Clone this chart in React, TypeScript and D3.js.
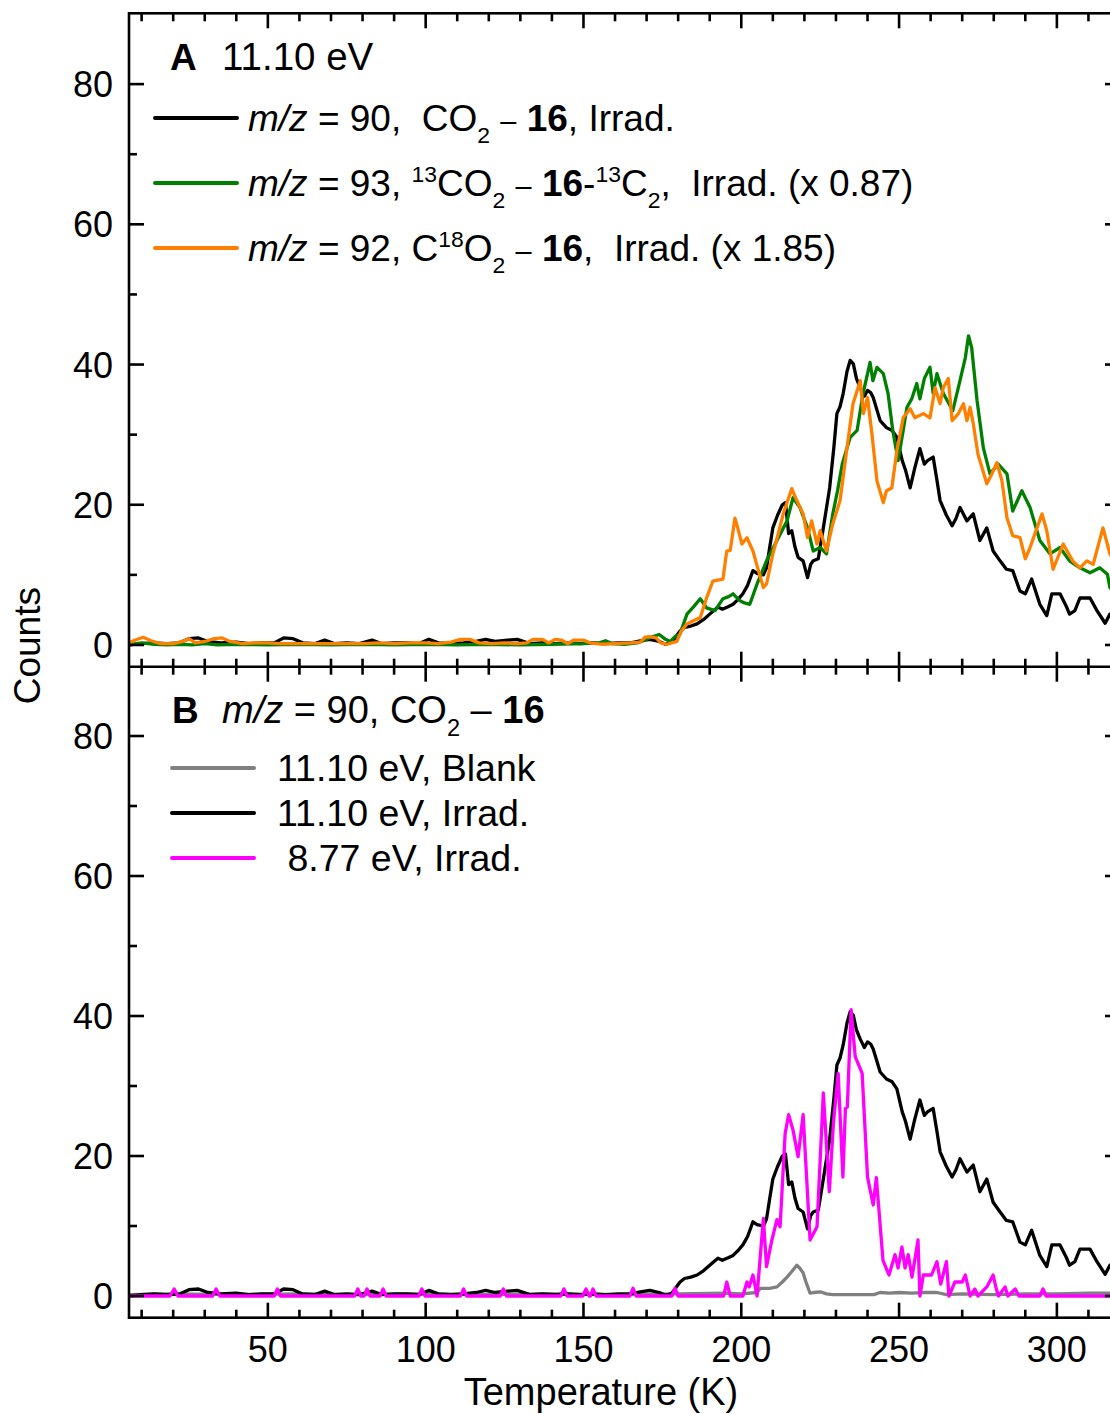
import React from 'react';
import * as d3 from 'd3';

type P = [number, number];

// m/z = 90, CO2 - 16, 11.10 eV, Irrad. (used in both panels)
const mz90Irrad: P[] = [
  [6,0],[10,0.2],[14,0.3],[18,0.2],[22,0.3],[25,0.9],[28,1.0],[31,0.5],[35,0.3],[40,0.4],[44,0.2],[48,0.3],[52,0.3],[55,1.0],[58,0.9],[61,0.3],[65,0.2],[68,0.7],[71,0.2],[75,0.3],[79,0.2],[83,0.7],[86,0.2],[90,0.3],[94,0.3],[98,0.2],[101,0.8],[104,0.3],[108,0.2],[112,0.3],[116,0.5],[119,0.8],[122,0.5],[126,0.7],[129,0.8],[133,0.2],[137,0.3],[141,0.2],[145,0.3],[149,0.2],[153,0.3],[157,0.2],[161,0.3],[165,0.3],[168,0.6],[171,0.8],[174,0.5],[176,0.1],[178,0.4],[180.6,2],[182,2.5],[184,2.7],[186,3],[188,3.6],[190,4.4],[192.6,5.4],[194,5.1],[196,5.5],[197.4,5.8],[199,6.5],[200.5,7.3],[202,8.5],[203.7,10.6],[205,10.2],[207,10],[208,11],[209,13.9],[210,16.7],[211.5,18.5],[213,20],[214,20.3],[215,15.9],[216,16.3],[217,14],[218,12.5],[219.6,12],[221,9.6],[222,11.5],[222.8,12],[224.4,12.3],[226,16.7],[228,22.4],[229.3,28],[230.3,33],[231.3,34],[232.3,35.9],[233.5,39],[234.5,40.6],[235.5,40.1],[236.5,38],[237.7,36.7],[239,35.5],[240,36.3],[241,36],[241.8,35.3],[243,33.5],[244,32],[246,31],[247.8,30.6],[249.3,29.6],[251,26.3],[252,25],[253.5,22.4],[255,25.3],[256.6,28],[258,25.8],[259,26.3],[260.8,26.8],[262,23.5],[263,20.6],[265,18.5],[266.8,17],[268,18],[269.3,19.6],[271.5,17.7],[273.5,18.7],[275.6,14.9],[277.8,16.7],[279.8,13.4],[282,12],[284,10.8],[286,10.6],[288.3,7.7],[290,7.3],[292,9.4],[294.6,5.8],[296.8,4.2],[298.4,7.3],[301,7.3],[303,5.5],[304,4.4],[305.7,4.9],[307.3,6.7],[310.5,6.7],[312.7,4.9],[315.3,3.1],[316.8,4.4],[318,3.5],[320,3]
];

// m/z = 93, 13CO2 - 16-13C2, Irrad. (x 0.87)
const mz93Irrad: P[] = [
  [6,0],[10,0.3],[14,0.1],[18,0],[22,0.1],[26,0],[30,0.2],[34,0],[40,0.1],[50,0],[60,0.1],[70,0],[80,0.1],[90,0],[100,0.1],[110,0],[120,0.1],[130,0],[140,0.1],[150,0.2],[155,0.3],[157,0.6],[159,0.2],[163,0.1],[167,0.3],[170,0.8],[172,1.2],[174,1.5],[176,0.8],[177.5,0.5],[179,1.2],[180.5,1.5],[182.8,4.4],[185,5.5],[187,6.6],[189,5.3],[191.7,4.9],[194.2,6.6],[196,6.9],[197.4,7.3],[199.6,6.3],[201,6],[202.7,5.8],[205,8.7],[208,12],[211.3,14.9],[214.5,17.7],[216.4,21],[218.6,19.6],[221,16.7],[222.8,13.4],[225,13.9],[227,13],[229,18.7],[230.5,22],[232,25.8],[234.5,29.6],[236.7,30.6],[238.6,35.9],[240.8,40.3],[241.7,37.7],[243,39.6],[245,38.7],[246.5,35.9],[248,30.6],[249.7,26.3],[251.3,30.6],[252.5,33.9],[254,35.1],[255.6,37.3],[256.6,35.1],[258,38],[259.8,39.6],[260.8,35.9],[262,38.7],[264,35.9],[267,33.4],[269.3,37.7],[271,41],[272,44.1],[273,42.4],[274.7,34.9],[276.7,28.1],[278.8,24.4],[281.4,25.8],[284.2,24.4],[286,19.1],[288.9,22],[291.5,19.6],[294.6,14.9],[297.8,13],[301,13.9],[304,12],[307.3,11],[310.5,10.3],[313.6,11],[316,10.1],[316.8,8.2],[318,7.5],[320,7]
];

// m/z = 92, C18O2 - 16, Irrad. (x 1.85)
const mz92Irrad: P[] = [
  [6,0.3],[8,0.7],[10.5,1.1],[13,0.6],[16,0.2],[20,0.2],[23,0.5],[25,0.9],[27,0.3],[30,0.5],[33,0.9],[35.5,1.0],[38,0.5],[42,0.2],[46,0.3],[50,0.3],[54,0.2],[58,0.2],[62,0.2],[66,0.2],[70,0.2],[75,0.2],[80,0.2],[85,0.3],[90,0.2],[95,0.3],[100,0.3],[104,0.2],[108,0.4],[111,0.8],[114,0.8],[117,0.3],[121,0.2],[125,0.3],[129,0.2],[132,0.3],[134,0.8],[137,0.8],[139,0.3],[141,0.8],[143,0.7],[145,0.2],[147,0.7],[150,0.7],[152,0.3],[156,0.1],[160,0.2],[165,0.3],[168,0.4],[169.5,1.1],[171,1.2],[173,1.0],[174.5,0.3],[176.5,0.1],[179.6,0.5],[181,2],[182.8,3],[185,3.5],[187,3.9],[189,6.7],[191,9.1],[193,9.3],[194.2,9.4],[195.4,13.4],[196.5,13.5],[198,18.1],[199,16.5],[200.2,14.4],[201.8,15.3],[203.7,13.4],[205.5,10.5],[207,8.2],[208,8.7],[210,13],[211.5,15.5],[213.3,18.7],[216,22.3],[217.6,20.6],[219.6,18.7],[221,15.3],[222.3,17.7],[224,14.4],[225,16.3],[227,13.4],[229,17.3],[231.3,20.6],[233.5,28.1],[235.4,34.4],[237.7,37.7],[238.7,33],[240,35.3],[241.4,30.1],[243,23.4],[245,20.3],[246,22],[247.7,22.4],[249.3,27.7],[251.3,32.4],[253.5,33.7],[255,32.4],[257.7,33],[259.8,32.4],[261.4,36.7],[263,34.4],[264,36.7],[265.6,38],[266.8,32],[268.8,33],[270.4,34.4],[271.5,32],[272.5,33.9],[273.5,31.6],[275,27.2],[277.8,23],[279.4,24.4],[281,26],[282.6,23.4],[284.2,18.1],[286,15.6],[288.3,15.3],[290,12.3],[291.5,13.9],[293.7,16.7],[295.3,18.7],[296.8,16.3],[298.8,10.8],[302,14.4],[305,12],[307.3,11],[309.5,12],[311.5,11.5],[314.6,16.7],[316.8,13],[318,12],[320,11.5]
];

// 11.10 eV, Blank (m/z = 90)
const mz90Blank: P[] = [
  [6,0.2],[20,0.3],[40,0.2],[60,0.3],[80,0.2],[100,0.3],[120,0.2],[140,0.3],[160,0.2],[180,0.3],[195,0.4],[200,0.3],[205,0.5],[206,1.1],[209,1.1],[211.3,1.3],[213,2],[214.5,2.7],[216,3.5],[217.6,4.4],[218.5,4],[219.6,3.3],[220.5,2],[221.8,0.4],[223,0.5],[225,0.6],[227,0.3],[229,0.2],[235,0.2],[242,0.2],[244,0.5],[247,0.4],[250,0.5],[254,0.4],[258,0.5],[262,0.5],[265,0.2],[270,0.3],[280,0.2],[290,0.3],[300,0.3],[310,0.4],[320,0.4]
];

// 8.77 eV, Irrad. (m/z = 90)
const mz90Irrad877: P[] = [
  [6,0],[19,0],[20.3,1],[21.5,0],[32.5,0],[33.6,1],[34.8,0],[52,0],[53,1],[54,0],[77.5,0],[78.5,1],[79.5,0],[80.5,0],[81.4,1],[82.4,0],[85.5,0],[86.5,1],[87.5,0],[97.8,0],[98.8,1],[99.8,0],[111,0],[112,1],[113,0],[123.6,0],[124.6,1],[125.6,0],[142.8,0],[143.8,1],[144.8,0],[149.8,0],[150.8,1],[151.8,0],[152.2,0],[153,1],[154,0],[164.7,0],[165.7,1.1],[166.7,0],[178,0],[179,1.1],[180,0],[194.4,0],[195.4,2],[196.5,0],[200.5,0],[201.8,2],[202.5,1.3],[203.7,3],[205,0],[207,11.1],[208,4.2],[209.7,8],[211.3,10.9],[212.3,9.9],[213.9,23.2],[215,25.9],[216.4,23.7],[218,19.9],[219.6,25.9],[221.8,8],[224,9.9],[226,29],[227.9,14.9],[229.2,24.7],[230.7,31.8],[232.2,17],[233,26.8],[233.6,27],[234.8,40.9],[236.1,34.2],[238.3,31.8],[240,17],[241.8,13],[242.8,16.9],[244.9,5.1],[246.8,3],[248.7,5.9],[249.7,4],[250.9,7],[251.9,4],[252.9,5.9],[254.1,2.7],[256,8],[256.6,0],[257.7,3],[260.3,3],[262,4.9],[263.2,1.7],[265,4.9],[265.8,0],[267.7,2],[270,2],[271,3],[272.5,0],[274,1],[275,0],[277.8,1.3],[279.8,3],[280.8,1],[281.5,0],[283.6,1.3],[284.5,0],[286.8,1],[288,0],[294.6,0],[295.6,1],[296.6,0],[320,0]
];

const xMajorTicks = [50, 100, 150, 200, 250, 300];
const xMinorTicks = [10, 20, 30, 40, 60, 70, 80, 90, 110, 120, 130, 140, 160, 170, 180, 190, 210, 220, 230, 240, 260, 270, 280, 290, 310];
const yMajorTicks = [0, 20, 40, 60, 80];
const yMinorTicks = [10, 30, 50, 70];

const FONT = "'Liberation Sans', Arial, sans-serif";

type Seg = { t: string; k?: 'i' | 'b' | 'sub' | 'sup' | 'dash' };

function RichText({ x, y, segs, size }: { x: number; y: number; segs: Seg[]; size: number }) {
  const out: React.ReactNode[] = [];
  let shift = 0;
  segs.forEach((s, i) => {
    let target = 0;
    let fs = size;
    if (s.k === 'sub') { target = size * 0.33; fs = size * 0.62; }
    if (s.k === 'sup') { target = -size * 0.38; fs = size * 0.62; }
    if (s.k === 'dash') { fs = size * 0.78; }
    const dy = target - shift;
    shift = target;
    out.push(
      <tspan key={i} dy={dy} fontSize={fs}
        fontStyle={s.k === 'i' ? 'italic' : 'normal'}
        fontWeight={s.k === 'b' ? 'bold' : 'normal'}>{s.t}</tspan>
    );
  });
  return <text x={x} y={y} fontFamily={FONT} fontSize={size} fill="#000" style={{ whiteSpace: 'pre' }}>{out}</text>;
}

export default function App() {
  const x = d3.scaleLinear().domain([6, 320]).range([129, 1120]);
  const yA = d3.scaleLinear().domain([-3.1, 90.1]).range([666.7, 13.3]);
  const yB = d3.scaleLinear().domain([-3.1, 89.9]).range([1317.7, 666.7]);
  const lineA = d3.line<P>().x(d => x(d[0])).y(d => yA(d[1]));
  const lineB = d3.line<P>().x(d => x(d[0])).y(d => yB(d[1]));

  const x0 = x.range()[0], x1 = x.range()[1];
  const topA = yA.range()[1], sep = yA.range()[0], botB = yB.range()[0];
  const MAJ = 15, MIN = 8;
  const sw = 2.6;

  const xTickSet = (yy: number, dir: number) => (
    <g>
      {xMajorTicks.map(t => <line key={'M' + t} x1={x(t)} x2={x(t)} y1={yy} y2={yy + dir * MAJ} stroke="#000" strokeWidth={sw} />)}
      {xMinorTicks.map(t => <line key={'m' + t} x1={x(t)} x2={x(t)} y1={yy} y2={yy + dir * MIN} stroke="#000" strokeWidth={sw} />)}
    </g>
  );
  const yTickSet = (ys: d3.ScaleLinear<number, number>, withLabels: boolean) => (
    <g>
      {yMajorTicks.map(t => (
        <g key={'M' + t}>
          <line x1={x0} x2={x0 + MAJ} y1={ys(t)} y2={ys(t)} stroke="#000" strokeWidth={sw} />
          <line x1={x1} x2={x1 - MAJ} y1={ys(t)} y2={ys(t)} stroke="#000" strokeWidth={sw} />
          {withLabels && <text x={113} y={ys(t) + 13} textAnchor="end" fontFamily={FONT} fontSize={36}>{t}</text>}
        </g>
      ))}
      {yMinorTicks.map(t => (
        <g key={'m' + t}>
          <line x1={x0} x2={x0 + MIN} y1={ys(t)} y2={ys(t)} stroke="#000" strokeWidth={sw} />
          <line x1={x1} x2={x1 - MIN} y1={ys(t)} y2={ys(t)} stroke="#000" strokeWidth={sw} />
        </g>
      ))}
    </g>
  );

  const lw = 3.3;
  const legLine = (xa: number, xb: number, yy: number, c: string) =>
    <line x1={xa} x2={xb} y1={yy} y2={yy} stroke={c} strokeWidth={4} strokeLinecap="round" />;

  return (
    <svg width={1110} height={1414} style={{ position: 'absolute', left: 0, top: 0, background: '#fff' }}>
      <defs>
        <clipPath id="clipA"><rect x={x0} y={topA} width={x1 - x0} height={sep - topA} /></clipPath>
        <clipPath id="clipB"><rect x={x0} y={sep} width={x1 - x0} height={botB - sep} /></clipPath>
      </defs>
      <rect x={0} y={0} width={1110} height={1414} fill="#fff" />

      {/* Panel A data */}
      <g clipPath="url(#clipA)" fill="none" strokeWidth={lw} strokeLinejoin="round">
        <path d={lineA(mz90Irrad) || ''} stroke="#000" />
        <path d={lineA(mz93Irrad) || ''} stroke="#008000" />
        <path d={lineA(mz92Irrad) || ''} stroke="#ff8000" />
      </g>
      {/* Panel B data */}
      <g clipPath="url(#clipB)" fill="none" strokeWidth={lw} strokeLinejoin="round">
        <path d={lineB(mz90Blank) || ''} stroke="#808080" />
        <path d={lineB(mz90Irrad) || ''} stroke="#000" />
        <path d={lineB(mz90Irrad877) || ''} stroke="#ff00ff" />
      </g>

      {/* Frames */}
      <rect x={x0} y={topA} width={x1 - x0} height={botB - topA} fill="none" stroke="#000" strokeWidth={sw} />
      <line x1={x0} x2={x1} y1={sep} y2={sep} stroke="#000" strokeWidth={sw} />

      {xTickSet(topA, 1)}
      {xTickSet(sep, -1)}
      {xTickSet(sep, 1)}
      {xTickSet(botB, -1)}
      {yTickSet(yA, true)}
      {yTickSet(yB, true)}

      {xMajorTicks.map(t => (
        <text key={t} x={x(t)} y={1362} textAnchor="middle" fontFamily={FONT} fontSize={36}>{t}</text>
      ))}
      <text x={601} y={1405} textAnchor="middle" fontFamily={FONT} fontSize={38}>Temperature (K)</text>
      <text transform={`translate(40, ${sep - 21}) rotate(-90)`} textAnchor="middle" fontFamily={FONT} fontSize={37}>Counts</text>

      {/* Panel A legend */}
      <text x={170} y={70} fontFamily={FONT} fontSize={37} fontWeight="bold">A</text>
      <text x={222} y={70} fontFamily={FONT} fontSize={38.5}>11.10 eV</text>
      {legLine(155, 237, 118, '#000')}
      <RichText x={248} y={131} size={37} segs={[
        { t: 'm/z', k: 'i' }, { t: ' = 90,  CO' }, { t: '2', k: 'sub' }, { t: ' ' }, { t: '–', k: 'dash' }, { t: ' ' }, { t: '16', k: 'b' }, { t: ', Irrad.' }
      ]} />
      {legLine(155, 237, 183, '#008000')}
      <RichText x={248} y={196} size={37} segs={[
        { t: 'm/z', k: 'i' }, { t: ' = 93, ' }, { t: '13', k: 'sup' }, { t: 'CO' }, { t: '2', k: 'sub' }, { t: ' ' }, { t: '–', k: 'dash' }, { t: ' ' }, { t: '16', k: 'b' }, { t: '-' }, { t: '13', k: 'sup' }, { t: 'C' }, { t: '2', k: 'sub' }, { t: ',  Irrad. (x 0.87)' }
      ]} />
      {legLine(155, 237, 248, '#ff8000')}
      <RichText x={248} y={261} size={37} segs={[
        { t: 'm/z', k: 'i' }, { t: ' = 92, C' }, { t: '18', k: 'sup' }, { t: 'O' }, { t: '2', k: 'sub' }, { t: ' ' }, { t: '–', k: 'dash' }, { t: ' ' }, { t: '16', k: 'b' }, { t: ',  Irrad. (x 1.85)' }
      ]} />

      {/* Panel B legend */}
      <text x={172} y={723} fontFamily={FONT} fontSize={37} fontWeight="bold">B</text>
      <RichText x={222} y={723} size={38} segs={[
        { t: 'm/z', k: 'i' }, { t: ' = 90, CO' }, { t: '2', k: 'sub' }, { t: ' – ' }, { t: '16', k: 'b' }
      ]} />
      {legLine(172, 254, 768, '#808080')}
      <RichText x={277} y={781} size={37.5} segs={[{ t: '11.10 eV, Blank' }]} />
      {legLine(172, 254, 813, '#000')}
      <RichText x={277} y={826} size={37.5} segs={[{ t: '11.10 eV, Irrad.' }]} />
      {legLine(172, 254, 858, '#ff00ff')}
      <RichText x={277} y={871} size={37.5} segs={[{ t: ' 8.77 eV, Irrad.' }]} />
    </svg>
  );
}
